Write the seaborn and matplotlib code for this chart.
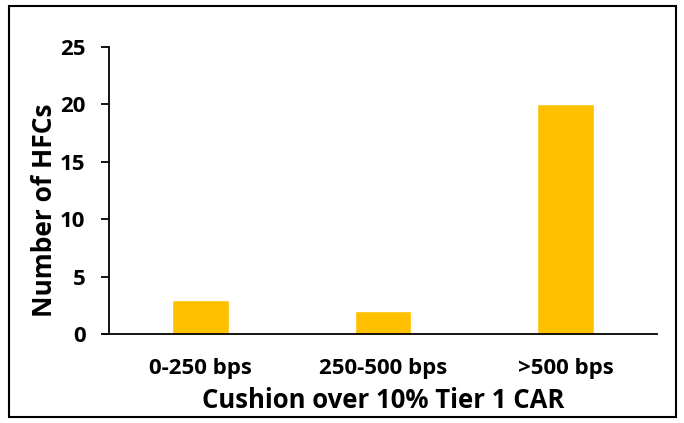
import matplotlib
matplotlib.use("Agg")
import matplotlib.pyplot as plt
from matplotlib.patches import Rectangle
import seaborn as sns
import pandas as pd

categories = ["0-250 bps", "250-500 bps", ">500 bps"]
hfc_counts = [3, 2, 20]
y_ticks = [0, 5, 10, 15, 20, 25]

sns.set_theme(style="white")
plt.rcParams["font.family"] = ["Open Sans", "DejaVu Sans"]

df = pd.DataFrame({"cushion": categories, "count": hfc_counts})

fig = plt.figure(figsize=(6.84, 4.23), dpi=100)
ax = fig.add_axes([0.1594, 0.2104, 0.801, 0.6786])

sns.barplot(data=df, x="cushion", y="count", color="#FFC000", width=0.31,
            saturation=1, ax=ax)

ax.set_ylim(0, 25)
ax.set_yticks(y_ticks)
ax.set_xlim(-0.5, 2.5)
for side in ["top", "right"]:
    ax.spines[side].set_visible(False)
for side in ["left", "bottom"]:
    ax.spines[side].set_color("black")
    ax.spines[side].set_linewidth(1.3)
ax.tick_params(axis="y", which="major", direction="out", length=6, width=1.3,
               color="black", left=True, labelsize=16, pad=11, labelcolor="black")
ax.tick_params(axis="x", length=0, labelsize=16, pad=17, labelcolor="black")
for lab in ax.get_xticklabels() + ax.get_yticklabels():
    lab.set_fontweight("bold")

ax.set_xlabel("Cushion over 10% Tier 1 CAR", fontsize=18.5, fontweight="bold",
              color="black", labelpad=6)
ax.set_ylabel("Number of HFCs", fontsize=19, fontweight="bold", color="black")
ax.yaxis.set_label_coords(-0.094, 0.43)

# bottom axis line runs a little past the y axis, like a tick at zero
ax.plot([-0.5 - 0.035, -0.5], [0, 0], color="black", lw=1.3, clip_on=False)

fig.patches.append(Rectangle((9 / 684, 6 / 423), 667 / 684, 411 / 423,
                             transform=fig.transFigure, fill=False,
                             edgecolor="black", linewidth=1.5))

fig.savefig("out.png", dpi=100)
